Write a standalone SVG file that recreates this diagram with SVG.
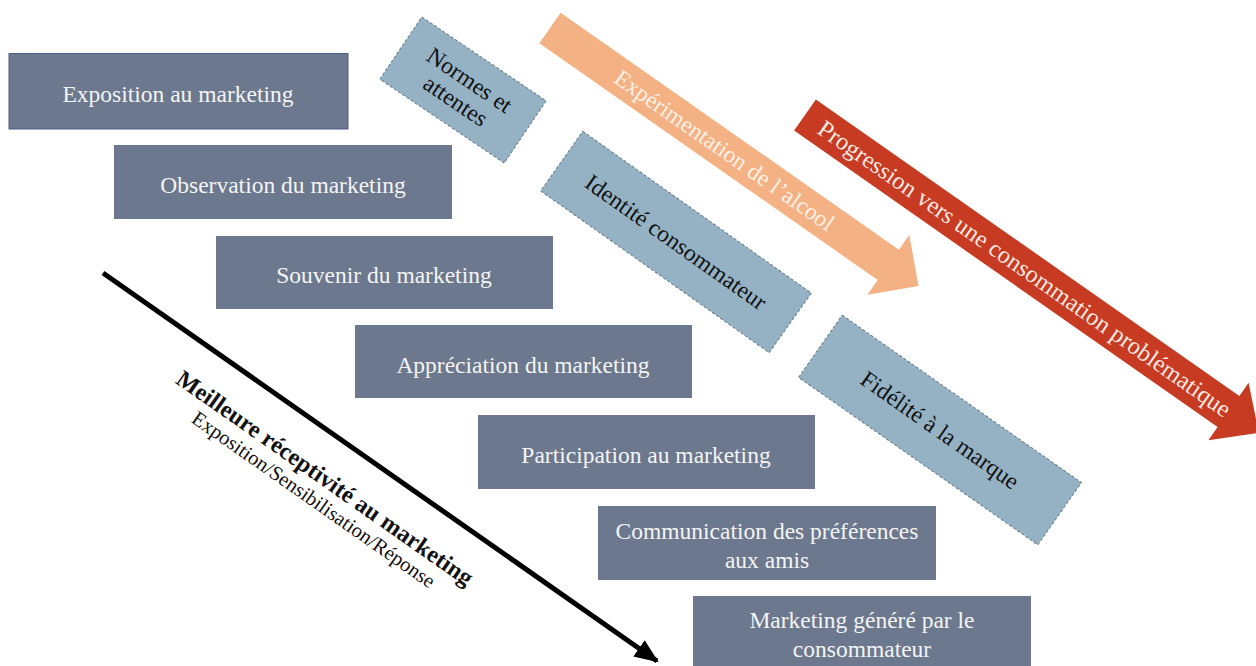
<svg xmlns="http://www.w3.org/2000/svg" width="1256" height="666" viewBox="0 0 1256 666">
<style>
.box{fill:#6c788d;}
.t{font-family:"Liberation Serif","Times New Roman",serif;font-size:23.5px;text-anchor:middle;}
.wt{fill:#f4f4f4;}
.bt{fill:#111111;}
.lb{fill:#94b2c4;stroke:#667c8c;stroke-width:1;stroke-dasharray:3 2;}
</style>
<defs>
<marker id="ah" markerUnits="userSpaceOnUse" markerWidth="26" markerHeight="26" viewBox="0 0 26 26" refX="22" refY="13" orient="auto">
<path d="M0,3 L24,13 L0,23 Z" fill="#000"/>
</marker>
</defs>
<rect width="1256" height="666" fill="#ffffff"/>

<g id="arrow-experimentation" transform="translate(550,28) rotate(35)">
<polygon points="0,-18.5 413,-18.5 413,-36.5 450,0 413,36.5 413,18.5 0,18.5" fill="#f4b183"/>
<text class="t" x="213" y="8" fill="#fdf1e8">Expérimentation de l’alcool</text>
</g>

<g id="arrow-progression" transform="translate(805,115) rotate(35)">
<polygon points="0,-19 517,-19 517,-35 554,0 517,35 517,19 0,19" fill="#c63b22"/>
<text class="t" x="268" y="8" fill="#fbe9e4" style="font-size:24.3px">Progression vers une consommation problématique</text>
</g>

<g id="n-exposition">
<rect class="box" x="9" y="53.5" width="339" height="75.5" stroke="#4a5d86" stroke-width="1"/>
<text class="t wt" x="178" y="102">Exposition au marketing</text>
</g>
<g id="n-observation">
<rect class="box" x="114" y="145" width="338" height="74"/>
<text class="t wt" x="283" y="193">Observation du marketing</text>
</g>
<g id="n-souvenir">
<rect class="box" x="216" y="236" width="337" height="73"/>
<text class="t wt" x="384" y="283">Souvenir du marketing</text>
</g>
<g id="n-appreciation">
<rect class="box" x="355" y="325" width="337" height="73"/>
<text class="t wt" x="523" y="373">Appréciation du marketing</text>
</g>
<g id="n-participation">
<rect class="box" x="478" y="415" width="337" height="74"/>
<text class="t wt" x="646" y="463">Participation au marketing</text>
</g>
<g id="n-communication">
<rect class="box" x="598" y="506" width="338" height="74"/>
<text class="t wt" x="767" y="539">Communication des préférences</text>
<text class="t wt" x="767" y="568">aux amis</text>
</g>
<g id="n-genere">
<rect class="box" x="693" y="596" width="338" height="76"/>
<text class="t wt" x="862" y="628">Marketing généré par le</text>
<text class="t wt" x="862" y="657">consommateur</text>
</g>

<g id="n-normes" transform="translate(463,90) rotate(34)">
<rect class="lb" x="-75" y="-37.5" width="150" height="75"/>
<text class="t bt" x="0" y="-4">Normes et</text>
<text class="t bt" x="0" y="21">attentes</text>
</g>
<g id="n-identite" transform="translate(676,242) rotate(35.3)">
<rect class="lb" x="-140" y="-36.5" width="280" height="73"/>
<text class="t bt" x="0" y="8">Identité consommateur</text>
</g>
<g id="n-fidelite" transform="translate(940,430) rotate(35)">
<rect class="lb" x="-146" y="-38" width="292" height="76"/>
<text class="t bt" x="0" y="8">Fidélité à la marque</text>
</g>

<g id="connectors">
<path d="M103,273 L657,661" stroke="#000" stroke-width="5" fill="none" marker-end="url(#ah)"/>
</g>

<g id="receptivite-label" transform="translate(325,478) rotate(35)">
<text class="t bt" x="0" y="8" style="font-size:24px;font-weight:bold">Meilleure réceptivité au marketing</text>
<text class="t bt" x="3" y="31" style="font-size:20.5px">Exposition/Sensibilisation/Réponse</text>
</g>
</svg>
